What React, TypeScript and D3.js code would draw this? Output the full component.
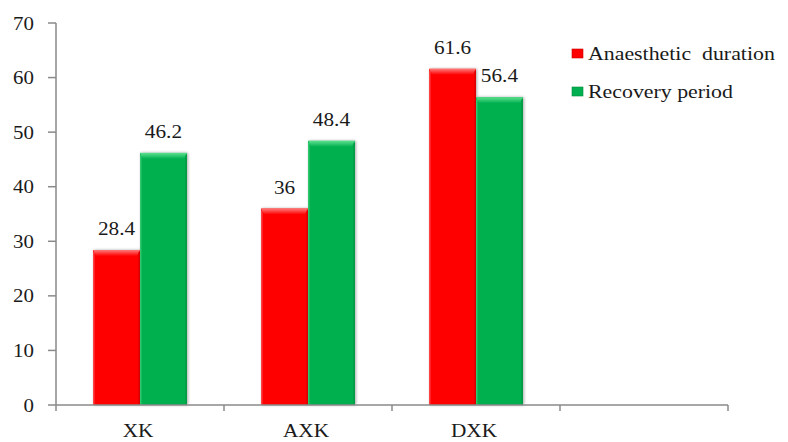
import React from "react";
import * as d3 from "d3";

const categories = ["XK", "AXK", "DXK", ""];
const seriesNames = ["Anaesthetic  duration", "Recovery period"];
const anaesthetic = [28.4, 36, 61.6];
const recovery = [46.2, 48.4, 56.4];
const yTicks = [0, 10, 20, 30, 40, 50, 60, 70];

const W = 788;
const H = 442;
const FONT = '"Times New Roman", Tinos, "Liberation Serif", "DejaVu Serif", "Noto Serif", Times, serif';
const SX = 1.15;

const colors = ["#ff0000", "#00b050"];
const lightColors = ["#ff7a7a", "#5fe08f"];
const darkColors = ["#c80000", "#008a3c"];

export default function App() {
  const x = d3.scaleBand<string>().domain(categories).range([56, 728]).paddingInner(0).paddingOuter(0);
  const y = d3.scaleLinear().domain([0, 70]).range([405, 23]);
  const sub = d3
    .scaleBand<string>()
    .domain(seriesNames)
    .range([0, x.bandwidth()])
    .paddingInner(0)
    .paddingOuter(0.79);
  const series = [anaesthetic, recovery];
  const axisColor = "#8a8a8a";

  const Txt = ({ x: tx, y: ty, anchor, size, sx = SX, children }: any) => (
    <text
      transform={`translate(${tx},${ty}) scale(${sx},1)`}
      textAnchor={anchor}
      fontFamily={FONT}
      fontSize={size}
      style={{ whiteSpace: "pre" }}
      fill="#1a1a1a"
    >
      {children}
    </text>
  );

  return (
    <svg width={W} height={H} style={{ position: "absolute", left: 0, top: 0, background: "#fff" }}>
      <defs>
        <filter id="sh" x="-20%" y="-20%" width="140%" height="140%">
          <feGaussianBlur in="SourceAlpha" stdDeviation="1.5" />
          <feOffset dx="1" dy="0" result="b" />
          <feComponentTransfer>
            <feFuncA type="linear" slope="0.35" />
          </feComponentTransfer>
          <feMerge>
            <feMergeNode />
            <feMergeNode in="SourceGraphic" />
          </feMerge>
        </filter>
        {colors.map((c, i) => (
          <linearGradient key={i} id={`top${i}`} x1="0" y1="0" x2="0" y2="1">
            <stop offset="0" stopColor={lightColors[i]} />
            <stop offset="1" stopColor={c} />
          </linearGradient>
        ))}
      </defs>

      {/* bars */}
      {series.map((vals, si) =>
        vals.map((v, ci) => {
          const bx = (x(categories[ci]) as number) + (sub(seriesNames[si]) as number);
          const bw = sub.bandwidth();
          const by = y(v);
          const bh = y(0) - by;
          const bev = 6;
          return (
            <g key={`${si}-${ci}`}>
              <rect x={bx} y={by} width={bw} height={bh} fill={colors[si]} filter="url(#sh)" />
              <path
                d={`M${bx},${by} L${bx + bw},${by} L${bx + bw - 3},${by + bev} L${bx + 3},${by + bev} Z`}
                fill={`url(#top${si})`}
              />
              <rect x={bx} y={by + 2} width={1.5} height={bh - 2} fill={lightColors[si]} opacity={0.5} />
              <rect x={bx + bw - 1.5} y={by + 2} width={1.5} height={bh - 2} fill={darkColors[si]} opacity={0.6} />
            </g>
          );
        })
      )}

      {/* data labels */}
      {series.map((vals, si) =>
        vals.map((v, ci) => {
          const bx = (x(categories[ci]) as number) + (sub(seriesNames[si]) as number);
          return (
            <Txt key={`l${si}-${ci}`} x={bx + sub.bandwidth() / 2} y={y(v) - 15} anchor="middle" size={18.5}>
              {String(v)}
            </Txt>
          );
        })
      )}

      {/* y axis */}
      <line x1={56} x2={56} y1={y(70)} y2={y(0)} stroke={axisColor} strokeWidth={1.5} />
      {yTicks.map((t) => (
        <g key={t}>
          <line x1={48} x2={56} y1={y(t)} y2={y(t)} stroke={axisColor} strokeWidth={1.5} />
          <Txt x={34} y={y(t) + 6.5} anchor="end" size={19} sx={1.1}>
            {String(t)}
          </Txt>
        </g>
      ))}

      {/* x axis */}
      <line x1={56} x2={728} y1={y(0)} y2={y(0)} stroke={axisColor} strokeWidth={1.5} />
      {[...categories.map((c) => x(c) as number), 728].map((px, i) => (
        <line key={i} x1={px} x2={px} y1={y(0)} y2={y(0) + 6} stroke={axisColor} strokeWidth={1.5} />
      ))}
      {categories.map((c) =>
        c ? (
          <Txt key={c} x={(x(c) as number) + x.bandwidth() / 2 - 2} y={437} anchor="middle" size={18.5}>
            {c}
          </Txt>
        ) : null
      )}

      {/* legend */}
      {seriesNames.map((n, i) => (
        <g key={n}>
          <rect x={572} y={49 + i * 38} width={11} height={9} fill={colors[i]} stroke={darkColors[i]} strokeWidth={0.6} />
          <Txt x={588} y={60 + i * 38} anchor="start" size={19}>
            {n}
          </Txt>
        </g>
      ))}
    </svg>
  );
}
